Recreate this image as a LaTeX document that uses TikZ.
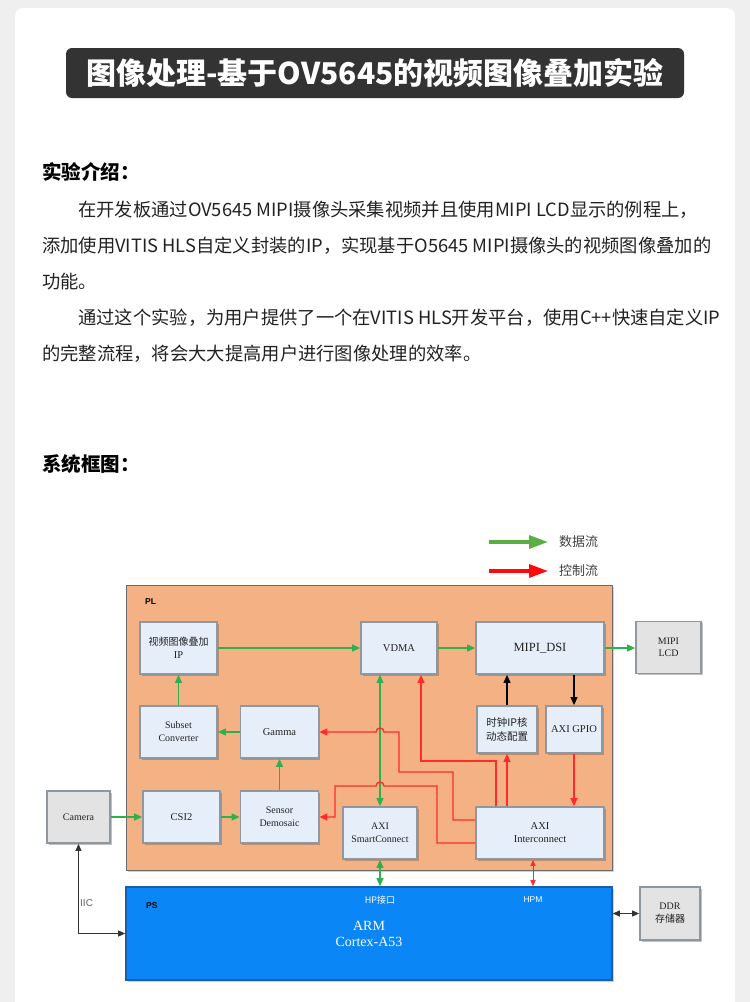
\documentclass[tikz,border=0pt]{standalone}
\usepackage{fontspec}
\setmainfont{Liberation Serif}
\setsansfont{Liberation Sans}
\newfontfamily\cjk{Noto Sans CJK SC}
\usetikzlibrary{arrows.meta,shadows}
\definecolor{bg}{HTML}{EFEFEF}
\definecolor{titlebg}{HTML}{333333}
\definecolor{bodytext}{HTML}{222222}
\definecolor{plfill}{HTML}{F4B183}
\definecolor{plline}{HTML}{6B6B6B}
\definecolor{psfill}{HTML}{0A86F6}
\definecolor{psline}{HTML}{1A5FAE}
\definecolor{boxfill}{HTML}{E6EEFA}
\definecolor{boxline}{HTML}{8F979F}
\definecolor{grayfill}{HTML}{E3E3E3}
\definecolor{dgreen}{HTML}{2EB04F}
\definecolor{dred}{HTML}{FF2A2A}
\definecolor{lgreen}{HTML}{5AAE44}
\definecolor{lred}{HTML}{FF0A0A}
\tikzset{
  blk/.style={draw=boxline, line width=1.8pt, fill=boxfill, inner sep=1pt, align=center,
    text=bodytext, drop shadow={shadow xshift=1.5pt,shadow yshift=-1.5pt,opacity=.35,fill=black!70},
    font=\fontsize{10.5}{13}\selectfont},
  gblk/.style={blk, fill=grayfill},
  dat/.style={draw=dgreen, line width=1.1pt, -{Triangle[length=8pt,width=7pt]}},
  datb/.style={draw=dgreen, line width=1.1pt, {Triangle[length=8pt,width=7pt]}-{Triangle[length=8pt,width=7pt]}},
  ctl/.style={draw=dred, line width=1.3pt, -{Triangle[length=8pt,width=7pt]}},
  ctlb/.style={draw=dred, line width=1pt, {Triangle[length=6pt,width=5pt]}-{Triangle[length=6pt,width=5pt]}},
  blkarr/.style={draw=black, line width=1.1pt, -{Triangle[length=8pt,width=7pt]}},
  blkbi/.style={draw=black!80, line width=1pt, {Triangle[length=7pt,width=6pt]}-{Triangle[length=7pt,width=6pt]}},
  body/.style={anchor=west, inner sep=0, text=bodytext, font=\cjk\fontsize{18.3}{18.3}\selectfont},
  head/.style={anchor=west, inner sep=0, text=black, font=\cjk\bfseries\fontsize{19.5}{19.5}\selectfont},
  legtext/.style={anchor=west, inner sep=0, text=black!75, font=\cjk\fontsize{13}{13}\selectfont},
  small/.style={inner sep=0, font=\sffamily\fontsize{8.5}{9}\selectfont},
}
\begin{document}
\begin{tikzpicture}[x=1pt,y=-1pt]
\useasboundingbox (0,0) rectangle (750,1002);
\begin{scope}
\clip (0,0) rectangle (750,1002);
\fill[bg] (0,0) rectangle (750,1002);
\fill[white, rounded corners=8pt] (15,8) rectangle (735,1040);
\end{scope}

% title
\node[fill=titlebg, rounded corners=6pt, minimum width=618pt, minimum height=50pt, inner sep=0,
  text=white, font=\cjk\bfseries\fontsize{30}{30}\selectfont] (title) at (375,73)
  {图像处理-基于OV5645的视频图像叠加实验};

% text
\node[head] (h1) at (42,172) {实验介绍：};
\node[body] (l1) at (78,210) {在开发板通过OV5645 MIPI摄像头采集视频并且使用MIPI LCD显示的例程上，};
\node[body] (l2) at (42,246) {添加使用VITIS HLS自定义封装的IP，实现基于O5645 MIPI摄像头的视频图像叠加的};
\node[body] (l3) at (42,282) {功能。};
\node[body] (l4) at (78,318) {通过这个实验，为用户提供了一个在VITIS HLS开发平台，使用C++快速自定义IP};
\node[body] (l5) at (42,354) {的完整流程，将会大大提高用户进行图像处理的效率。};
\node[head] (h2) at (42,464) {系统框图：};

% legend
\coordinate (lga) at (489,542);
\coordinate (lgb) at (548,542);
\coordinate (lgc) at (489,571);
\coordinate (lgd) at (548,571);
\draw[draw=lgreen, line width=3.2pt, -{Triangle[length=19pt,width=13pt]}] (lga) -- (lgb);
\draw[draw=lred, line width=3.2pt, -{Triangle[length=19pt,width=13pt]}] (lgc) -- (lgd);
\node[legtext] (lgt1) at (559,542) {数据流};
\node[legtext] (lgt2) at (559,571) {控制流};

% PL and PS regions
\node[draw=plline, line width=1pt, fill=plfill, minimum width=486pt, minimum height=285pt, inner sep=0,
  drop shadow={shadow xshift=1.5pt,shadow yshift=-1.5pt,opacity=.3,fill=black!60}] (pl) at (369,727.5) {};
\node[small, anchor=west, font=\sffamily\bfseries\fontsize{8.5}{9}\selectfont] (pllab) at (145,602) {PL};
\node[draw=psline, line width=1.6pt, fill=psfill, minimum width=486pt, minimum height=93pt, inner sep=0,
  drop shadow={shadow xshift=1.5pt,shadow yshift=-1.5pt,opacity=.3,fill=black!60}] (ps) at (369,933.5) {};
\node[small, anchor=west, font=\sffamily\bfseries\fontsize{8.5}{9}\selectfont] (pslab) at (146,906) {PS};
\node[small, text=white, font=\cjk\fontsize{9}{9}\selectfont] (hplab) at (380,900) {HP接口};
\node[small, text=white] (hpmlab) at (533,900) {HPM};
\node[inner sep=0, text=white, align=center, font=\fontsize{14}{16}\selectfont] (arm) at (369,934) {ARM\\Cortex-A53};

% blocks
\node[blk, minimum width=77pt, minimum height=52pt] (ip) at (178.5,648) {{\cjk\fontsize{10}{13}\selectfont 视频图像叠加}\\IP};
\node[blk, minimum width=76pt, minimum height=52pt] (vdma) at (399,648) {VDMA};
\node[blk, minimum width=128pt, minimum height=52pt, font=\fontsize{12.5}{14}\selectfont] (dsi) at (540,648) {MIPI\_DSI};
\node[gblk, minimum width=65pt, minimum height=52pt, font=\fontsize{10}{12}\selectfont] (lcd) at (668.5,647.5) {MIPI\\LCD};
\node[blk, minimum width=77pt, minimum height=52pt, font=\fontsize{10}{13}\selectfont] (subset) at (178.5,732) {Subset\\Converter};
\node[blk, minimum width=78pt, minimum height=52pt] (gamma) at (279.5,732) {Gamma};
\node[blk, minimum width=60pt, minimum height=47pt, font=\cjk\fontsize{10.5}{14}\selectfont] (clk) at (507,729.5) {时钟IP核\\动态配置};
\node[blk, minimum width=56pt, minimum height=47pt] (gpio) at (574,729.5) {AXI GPIO};
\node[gblk, minimum width=63pt, minimum height=52pt, font=\fontsize{10}{12}\selectfont] (camera) at (78.5,817) {Camera};
\node[blk, minimum width=77pt, minimum height=52pt] (csi) at (181.5,817) {CSI2};
\node[blk, minimum width=78pt, minimum height=52pt, font=\fontsize{10}{13}\selectfont] (demo) at (279.5,817) {Sensor\\Demosaic};
\node[blk, minimum width=74pt, minimum height=52pt, font=\fontsize{10}{13}\selectfont] (smart) at (380,833) {AXI\\SmartConnect};
\node[blk, minimum width=128pt, minimum height=52pt, font=\fontsize{10.5}{13}\selectfont] (inter) at (540,833) {AXI\\Interconnect};
\node[gblk, minimum width=60pt, minimum height=53pt, font=\fontsize{10}{13}\selectfont] (ddr) at (670,913.5) {DDR\\{\cjk 存储器}};

% data flow (green)
\draw[dat] (ip) -- (vdma);
\draw[dat] (vdma) -- (dsi);
\draw[dat] (dsi.east) -- (dsi.east -| lcd.west);
\draw[dat] (subset) -- (ip);
\draw[dat] (gamma) -- (subset);
\draw[dat] (demo) -- (gamma);
\draw[dat] (camera) -- (csi);
\draw[dat] (csi) -- (demo);
\draw[datb] (vdma.south -| smart.north) -- (smart.north);
\draw[datb] (smart.south) -- (smart.south |- ps.north);

% control flow (red)
\draw[ctlb] ([xshift=-7pt]inter.south) -- ([xshift=-7pt]inter.south |- ps.north);
\draw[ctl] (gpio.south) -- (gpio.south |- inter.north);
\draw[ctl] (clk.south |- inter.north) -- (clk.south);
\draw[ctl] ([xshift=-44pt]inter.north) -- ++(0,-45) -| ([xshift=22pt]vdma.south);
\draw[ctl] ([yshift=13pt]inter.west) -- (453,820) -- (453,772) -- (399,772) -- (399,732) -- (384,732)
  arc[start angle=0, end angle=-180, radius=4] -- (gamma.east);
\draw[ctl] ([yshift=-10pt]inter.west) -- (437,843) -- (437,786) -- (384,786)
  arc[start angle=0, end angle=-180, radius=4] -- (335,786) -- (335,817) -- (demo.east);

% black
\draw[blkarr] (clk.north) -- (clk.north |- dsi.south);
\draw[blkarr] (gpio.north |- dsi.south) -- (gpio.north);
\draw[blkbi] (camera.south) |- (ps.west);
\draw[blkbi] (ddr.west -| ps.east) -- (ddr.west);
\node[small, anchor=west, text=black!60, font=\sffamily\fontsize{10}{10}\selectfont] (iic) at (80,903) {IIC};
\end{tikzpicture}
\end{document}
